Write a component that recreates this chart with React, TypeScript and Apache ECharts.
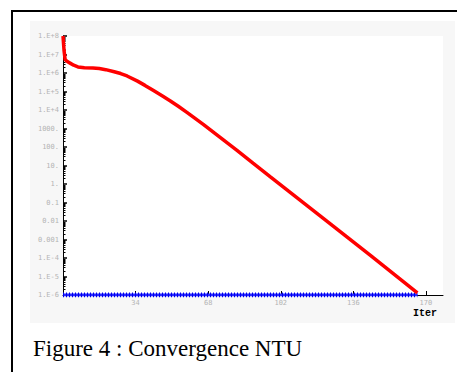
import React, { useEffect, useRef } from "react";
import * as echarts from "echarts";

// Red curve (iteration, log10 of residual)
const redIter = [0, 0.5, 1, 2, 3.5, 5, 7, 10, 14, 17, 20, 24, 27, 30, 34.9, 38.4, 42.4, 46.8, 50.3, 54, 58.2, 65.7, 73.6, 81.5, 89, 97, 120, 144, 166];
const redLog = [8, 7.2, 6.72, 6.62, 6.52, 6.42, 6.33, 6.28, 6.27, 6.24, 6.18, 6.07, 5.97, 5.84, 5.56, 5.33, 5.05, 4.74, 4.49, 4.2, 3.86, 3.22, 2.52, 1.82, 1.13, 0.4, -1.68, -3.86, -5.89];

// Blue series (constant at the axis minimum)
const blueIter = [0, 166];
const blueValue = [1e-6, 1e-6];

// Axes
const xTicks = [34, 68, 102, 136, 170];
const xMax = 178;
const yDecades = [-6, -5, -4, -3, -2, -1, 0, 1, 2, 3, 4, 5, 6, 7, 8];
const yLabels = ["1.E-6", "1.E-5", "1.E-4", "0.001", "0.01", "0.1", "1.", "10.", "100.", "1000.", "1.E+4", "1.E+5", "1.E+6", "1.E+7", "1.E+8"];
const minorMultipliers = [2, 3, 4, 5, 6, 7, 8, 9];

const caption = "Figure 4 : Convergence NTU";
const xName = "Iter";

export default function App() {
  const ref = useRef<HTMLDivElement>(null);
  useEffect(() => {
    if (!ref.current) return;
    const chart = echarts.init(ref.current, null, { renderer: "svg" });
    const redData = redIter.map((x, i) => [x, Math.pow(10, redLog[i])]);
    const blueData = blueIter.map((x, i) => [x, blueValue[i]]);
    const minorVals: number[] = [];
    yDecades.slice(0, -1).forEach((d) => minorMultipliers.forEach((m) => minorVals.push(m * Math.pow(10, d))));
    const labelFor = (v: number) => {
      const e = Math.round(Math.log10(v));
      const idx = yDecades.indexOf(e);
      return idx >= 0 ? yLabels[idx] : "";
    };
    const tickFont = { fontFamily: "DejaVu Sans Mono", fontSize: 7, color: "#b4b4b4" };
    chart.setOption({
      animation: false,
      backgroundColor: "#ffffff",
      title: {
        text: caption,
        left: 28,
        top: 332,
        textStyle: { fontFamily: "Liberation Serif", fontSize: 23, fontWeight: "normal", color: "#000" },
      },
      graphic: [
        { type: "rect", z: -100, silent: true, shape: { x: 30, y: 21, width: 425, height: 302 }, style: { fill: "#f7f7f7" } },
        { type: "rect", z: 100, silent: true, shape: { x: 12, y: 11, width: 460, height: 380 }, style: { fill: "none", stroke: "#000", lineWidth: 2 } },
      ],
      grid: { left: 63, top: 36, right: 14, bottom: 77, show: true, backgroundColor: "#ffffff", borderWidth: 0 },
      xAxis: {
        type: "value",
        min: 0,
        max: xMax,
        name: xName,
        nameLocation: "end",
        nameGap: -30,
        nameTextStyle: { fontFamily: "Liberation Mono", fontSize: 10, fontWeight: "bold", color: "#000", verticalAlign: "top", padding: [13, 0, 0, 0] },
        axisLine: { lineStyle: { color: "#000", width: 1 } },
        axisTick: { show: true, inside: true, length: 4, customValues: xTicks, lineStyle: { color: "#000" } },
        axisLabel: { customValues: xTicks, margin: 4, ...tickFont },
        splitLine: { show: false },
      },
      yAxis: [
        {
          type: "log",
          logBase: 10,
          min: 1e-6,
          max: 1e8,
          interval: 1,
          axisLine: { show: true, lineStyle: { color: "#000", width: 1 } },
          axisTick: { show: true, inside: true, length: 4, lineStyle: { color: "#000", width: 1.5 } },
          axisLabel: { formatter: labelFor, margin: 4, ...tickFont },
          splitLine: { show: false },
        },
        {
          type: "log",
          logBase: 10,
          min: 1e-6,
          max: 1e8,
          position: "left",
          axisLine: { show: false },
          axisTick: { show: true, inside: true, length: 2.5, customValues: minorVals, lineStyle: { color: "#000", width: 1 } },
          axisLabel: { show: false },
          splitLine: { show: false },
        },
      ],
      series: [
        {
          type: "line",
          data: blueData,
          yAxisIndex: 0,
          symbol: "none",
          lineStyle: { color: "#2a2aff", width: 3 },
          z: 3,
        },
        {
          type: "line",
          data: blueData,
          yAxisIndex: 0,
          symbol: "none",
          lineStyle: { color: "#0000ee", width: 5, type: [1, 2] },
          z: 3,
        },
        {
          type: "line",
          data: redData,
          yAxisIndex: 0,
          symbol: "none",
          lineStyle: { color: "#ff0000", width: 3.5 },
          z: 4,
        },
      ],
    });
    return () => chart.dispose();
  }, []);
  return <div ref={ref} style={{ position: "fixed", left: 0, top: 0, width: 457, height: 372 }} />;
}
